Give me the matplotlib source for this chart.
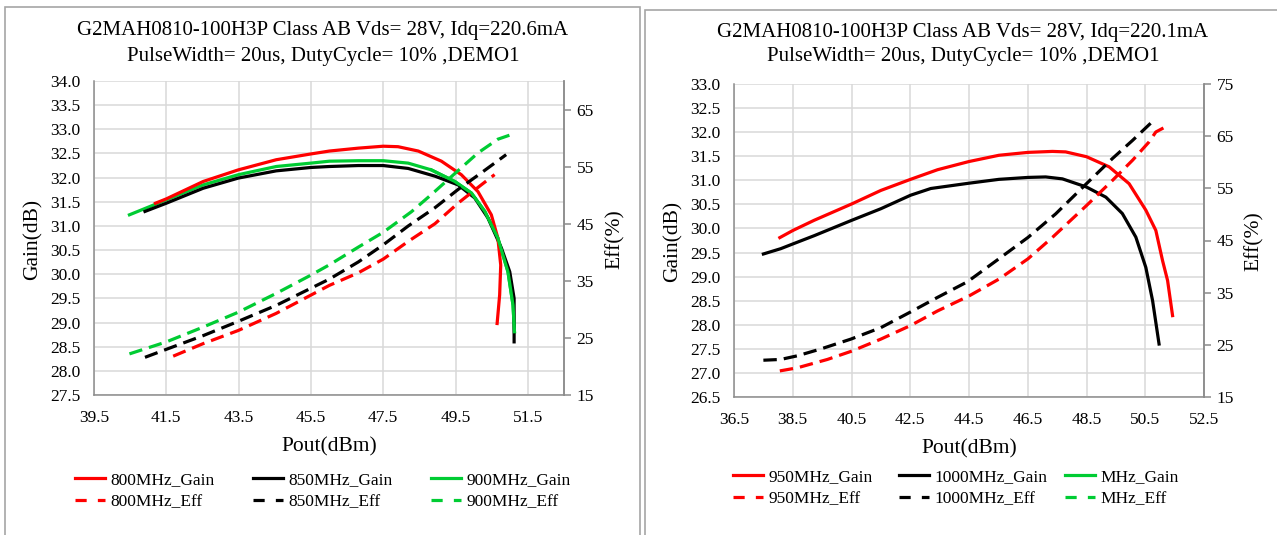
import matplotlib
matplotlib.use("Agg")
import matplotlib.pyplot as plt
from matplotlib.patches import Rectangle
from matplotlib.lines import Line2D

plt.rcParams['font.family'] = ['Liberation Serif', 'DejaVu Serif']

W, H = 1277, 535

# ---- left chart data (800 / 850 / 900 MHz) ----
p800_gain = [41.2, 41.5, 42.52, 43.49, 44.54, 45.5, 46.01, 46.81, 47.5, 47.91, 48.47, 49.11, 49.66,
             50.12, 50.49, 50.67, 50.75, 50.72, 50.65]
g800 = [31.47, 31.56, 31.92, 32.16, 32.37, 32.49, 32.55, 32.61, 32.65, 32.64, 32.55, 32.34, 32.06,
        31.71, 31.23, 30.75, 30.19, 29.57, 28.98]
p850_gain = [40.91, 41.5, 42.52, 43.49, 44.54, 45.5, 46.01, 46.81, 47.5, 48.19, 48.93, 49.57, 50.03,
             50.4, 50.77, 51.0, 51.12, 51.12]
g850 = [31.3, 31.47, 31.78, 31.99, 32.14, 32.21, 32.23, 32.25, 32.25, 32.19, 32.03, 31.85, 31.58,
        31.16, 30.54, 30.05, 29.5, 28.6]
p900_gain = [40.48, 41.5, 42.52, 43.49, 44.54, 45.5, 46.01, 46.81, 47.5, 48.19, 48.83, 49.48, 49.94,
             50.31, 50.67, 50.95, 51.09, 51.13]
g900 = [31.23, 31.54, 31.85, 32.06, 32.23, 32.30, 32.34, 32.35, 32.35, 32.3, 32.16, 31.92, 31.68,
        31.3, 30.75, 30.05, 29.36, 28.81]

p800_eff = [41.69, 42.52, 43.49, 44.54, 45.5, 46.01, 46.81, 47.5, 48.19, 48.93, 49.57, 50.21, 50.58]
e800 = [21.8, 24.0, 26.3, 29.3, 32.5, 34.2, 36.4, 38.8, 41.9, 45.0, 48.6, 51.8, 53.6]
p850_eff = [40.91, 41.5, 42.52, 43.49, 44.54, 45.5, 46.01, 46.81, 47.5, 48.19, 48.93, 49.57, 50.21, 50.9]
e850 = [21.6, 23.0, 25.4, 27.9, 30.7, 33.7, 35.3, 38.3, 41.3, 44.6, 47.8, 51.0, 53.9, 57.1]
p900_eff = [40.48, 41.5, 42.52, 43.49, 44.54, 45.5, 46.01, 46.81, 47.5, 48.28, 48.83, 49.57, 50.12,
            50.67, 50.99]
e900 = [22.2, 24.3, 26.9, 29.5, 32.8, 36.0, 37.8, 40.9, 43.5, 47.1, 50.1, 54.3, 57.4, 59.8, 60.5]

# ---- right chart data (950 / 1000 MHz) ----
p950_gain = [38.06, 38.51, 39.23, 40.51, 41.5, 42.51, 43.43, 44.5, 45.52, 46.51, 47.34, 47.79, 48.5,
             49.27, 49.95, 50.52, 50.86, 51.09, 51.26, 51.43]
g950 = [29.81, 29.96, 30.17, 30.51, 30.79, 31.02, 31.22, 31.39, 31.52, 31.58, 31.6, 31.59, 31.49,
        31.28, 30.93, 30.38, 29.96, 29.33, 28.92, 28.19]
p1000_gain = [37.5, 38.09, 38.51, 39.23, 40.51, 41.5, 42.51, 43.2, 44.5, 45.52, 46.51, 47.11, 47.68,
              48.5, 49.16, 49.72, 50.18, 50.52, 50.75, 50.97]
g1000 = [29.47, 29.58, 29.68, 29.85, 30.17, 30.41, 30.69, 30.83, 30.94, 31.02, 31.06, 31.07, 31.03,
         30.86, 30.65, 30.31, 29.82, 29.19, 28.5, 27.6]
p950_eff = [38.06, 38.66, 39.68, 40.51, 41.5, 42.51, 43.43, 44.51, 45.52, 46.51, 47.34, 48.5, 49.38,
            50.07, 50.63, 50.86, 51.26]
e950 = [20.0, 20.6, 22.2, 23.8, 26.1, 28.7, 31.5, 34.4, 37.6, 41.5, 45.6, 51.7, 56.5, 60.4, 63.9,
        65.8, 67.0]
p1000_eff = [37.5, 38.09, 38.66, 39.45, 40.48, 41.5, 42.51, 43.43, 44.45, 45.52, 46.51, 47.45, 48.5,
             49.38, 50.07, 50.8]
e1000 = [22.05, 22.2, 22.9, 24.2, 26.1, 28.3, 31.3, 34.1, 37.1, 41.5, 45.6, 50.1, 55.9, 60.7, 64.2,
         68.1]

RED = '#FF0000'
BLACK = '#000000'
GREEN = '#00CC33'
GRID = '#D9D9D9'
SPINE = '#8C8C8C'
DASH = (0, (4.2, 2.2))
LW = 2.3

fig = plt.figure(figsize=(W / 100, H / 100), dpi=100)


def px_rect(x0, y_top, x1, y_bot):
    return [x0 / W, 1 - y_bot / H, (x1 - x0) / W, (y_bot - y_top) / H]


def setup(ax, xlim, ylim, ylim2, xticks, yticks, y2ticks):
    ax.set_xlim(*xlim)
    ax.set_ylim(*ylim)
    ax.set_xticks(xticks)
    ax.set_yticks(yticks)
    ax.set_xticklabels(['%.1f' % v for v in xticks])
    ax.set_yticklabels(['%.1f' % v for v in yticks])
    ax.grid(True, color=GRID, linewidth=1.1)
    ax.set_axisbelow(True)
    ax.tick_params(axis='both', length=0, labelsize=12.5)
    ax.tick_params(axis='x', pad=11)
    ax.tick_params(axis='y', pad=10)
    ax.spines['top'].set_visible(False)
    for s in ['left', 'bottom', 'right']:
        ax.spines[s].set_color(SPINE)
        ax.spines[s].set_linewidth(1.1)
    ax2 = ax.twinx()
    ax2.set_ylim(*ylim2)
    ax2.set_yticks(y2ticks)
    ax2.tick_params(axis='y', length=5, width=1.1, color=SPINE, labelsize=12.5, pad=4)
    for s in ['top', 'left', 'bottom']:
        ax2.spines[s].set_visible(False)
    ax2.spines['right'].set_color(SPINE)
    ax2.spines['right'].set_linewidth(1.1)
    return ax2


def legend_col(x, y, color, label_g, label_e):
    hs = [Line2D([], [], color=color, lw=LW),
          Line2D([], [], color=color, lw=LW, linestyle=(0, (3.5, 3.5)))]
    fig.legend(hs, [label_g, label_e], loc='upper left',
               bbox_to_anchor=(x / W, 1 - y / H), frameon=False,
               fontsize=12.5, handlelength=1.75, handletextpad=0.3,
               borderpad=0, borderaxespad=0, labelspacing=0.35)


# chart boxes
fig.add_artist(Rectangle((5 / W, -0.05), (640 - 5) / W, 1.05 - 7 / H,
                         transform=fig.transFigure, fill=False, edgecolor='#A6A6A6', lw=1.2))
fig.add_artist(Rectangle((645 / W, -0.05), 0.6, 1.05 - 10 / H,
                         transform=fig.transFigure, fill=False, edgecolor='#A6A6A6', lw=1.2))

# ---------------- left chart ----------------
axL = fig.add_axes(px_rect(94, 81, 564, 395))
axL2 = setup(axL, (39.5, 52.5), (27.5, 34.0), (15, 70),
             [39.5, 41.5, 43.5, 45.5, 47.5, 49.5, 51.5],
             [27.5 + 0.5 * i for i in range(14)], [15, 25, 35, 45, 55, 65])
axL.plot(p900_gain, g900, color=GREEN, lw=LW, zorder=2)
axL.plot(p800_gain, g800, color=RED, lw=LW, zorder=3)
axL.plot(p850_gain, g850, color=BLACK, lw=LW, zorder=2)
axL.plot(p900_gain[10:], g900[10:], color=GREEN, lw=LW, zorder=4)
axL2.plot(p800_eff, e800, color=RED, lw=LW, linestyle=DASH)
axL2.plot(p850_eff, e850, color=BLACK, lw=LW, linestyle=DASH)
axL2.plot(p900_eff, e900, color=GREEN, lw=LW, linestyle=DASH)

fig.text(323 / W, 1 - 31 / H, 'G2MAH0810-100H3P Class AB Vds= 28V, Idq=220.6mA',
         ha='center', va='center', fontsize=15)
fig.text(323 / W, 1 - 56 / H, 'PulseWidth= 20us, DutyCycle= 10% ,DEMO1',
         ha='center', va='center', fontsize=15)
fig.text(329 / W, 1 - 447 / H, 'Pout(dBm)', ha='center', va='center', fontsize=15.5)
fig.text(33 / W, 1 - 239 / H, 'Gain(dB)', ha='center', va='center', rotation=90, fontsize=15.5)
fig.text(615 / W, 1 - 239 / H, 'Eff(%)', ha='center', va='center', rotation=90, fontsize=15.5)

legend_col(75, 472, RED, '800MHz_Gain', '800MHz_Eff')
legend_col(253, 472, BLACK, '850MHz_Gain', '850MHz_Eff')
legend_col(431, 472, GREEN, '900MHz_Gain', '900MHz_Eff')

# ---------------- right chart ----------------
axR = fig.add_axes(px_rect(734, 84, 1204, 397))
axR2 = setup(axR, (36.5, 52.5), (26.5, 33.0), (15, 75),
             [36.5 + 2 * i for i in range(9)],
             [26.5 + 0.5 * i for i in range(14)], [15, 25, 35, 45, 55, 65, 75])
axR.plot(p950_gain, g950, color=RED, lw=LW)
axR.plot(p1000_gain, g1000, color=BLACK, lw=LW)
axR2.plot(p950_eff, e950, color=RED, lw=LW, linestyle=DASH)
axR2.plot(p1000_eff, e1000, color=BLACK, lw=LW, linestyle=DASH)

fig.text(963 / W, 1 - 33 / H, 'G2MAH0810-100H3P Class AB Vds= 28V, Idq=220.1mA',
         ha='center', va='center', fontsize=15)
fig.text(963 / W, 1 - 57 / H, 'PulseWidth= 20us, DutyCycle= 10% ,DEMO1',
         ha='center', va='center', fontsize=15)
fig.text(969 / W, 1 - 449 / H, 'Pout(dBm)', ha='center', va='center', fontsize=15.5)
fig.text(673 / W, 1 - 241 / H, 'Gain(dB)', ha='center', va='center', rotation=90, fontsize=15.5)
fig.text(1254 / W, 1 - 241 / H, 'Eff(%)', ha='center', va='center', rotation=90, fontsize=15.5)

legend_col(733, 469, RED, '950MHz_Gain', '950MHz_Eff')
legend_col(899, 469, BLACK, '1000MHz_Gain', '1000MHz_Eff')
legend_col(1065, 469, GREEN, 'MHz_Gain', 'MHz_Eff')

fig.savefig('out.png', dpi=100)
